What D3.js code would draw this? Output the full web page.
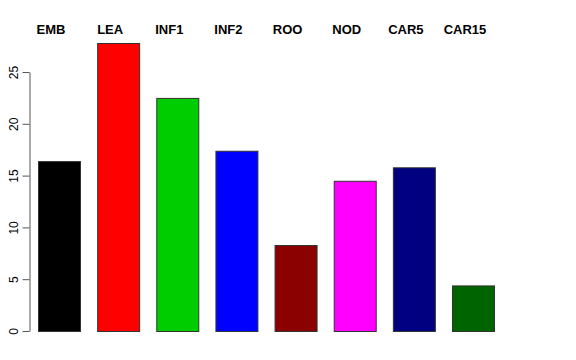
<!DOCTYPE html>
<html><head><meta charset="utf-8">
<script src="https://cdn.jsdelivr.net/npm/d3@7"></script>
<style>body{margin:0;background:#fff}svg{display:block}</style>
</head><body>
<svg id="c" width="576" height="360"></svg>
<script>
const categories = ["EMB","LEA","INF1","INF2","ROO","NOD","CAR5","CAR15"];
const values = [16.4, 27.8, 22.5, 17.4, 8.3, 14.5, 15.8, 4.4];
const colors = ["#000000","#FF0000","#00CD00","#0000FF","#8B0000","#FF00FF","#000080","#006400"];
const yTicks = [0,5,10,15,20,25];

const svg = d3.select("#c");
const y = d3.scaleLinear().domain([0,25]).range([331,72]);
const x = d3.scaleBand().domain(categories).range([38,494]).paddingInner(0.29).paddingOuter(0);

svg.selectAll("rect.bar").data(categories).join("rect")
  .attr("class","bar")
  .attr("x", d => x(d)+0.5)
  .attr("y", (d,i) => y(values[i])+0.5)
  .attr("width", x.bandwidth())
  .attr("height", (d,i) => y(0)-y(values[i]))
  .attr("fill", (d,i) => colors[i])
  .attr("stroke", "#333")
  .attr("stroke-width", 1);

const ax = svg.append("g").attr("transform","translate(29.5,0)")
  .call(d3.axisLeft(y).tickValues(yTicks).tickFormat(d3.format("d")).tickSize(7).tickSizeOuter(0).tickPadding(6));
ax.select(".domain").attr("stroke","#555");
ax.selectAll(".tick line").attr("stroke","#555");
ax.selectAll(".tick text")
  .attr("font-family","Liberation Sans, Arial, sans-serif")
  .attr("font-size",12)
  .attr("fill","#000")
  .attr("transform","rotate(-90)")
  .attr("x",0).attr("y",-16)
  .attr("dy","0.35em")
  .attr("text-anchor","middle");

svg.selectAll("text.lab").data(categories).join("text")
  .attr("class","lab")
  .attr("x", d => x(d) + x.bandwidth()/2 - 8)
  .attr("y", 34)
  .attr("text-anchor","middle")
  .attr("font-family","Liberation Sans, Arial, sans-serif")
  .attr("font-weight","bold")
  .attr("font-size",13)
  .attr("fill","#000")
  .text(d => d);
</script>
</body></html>
